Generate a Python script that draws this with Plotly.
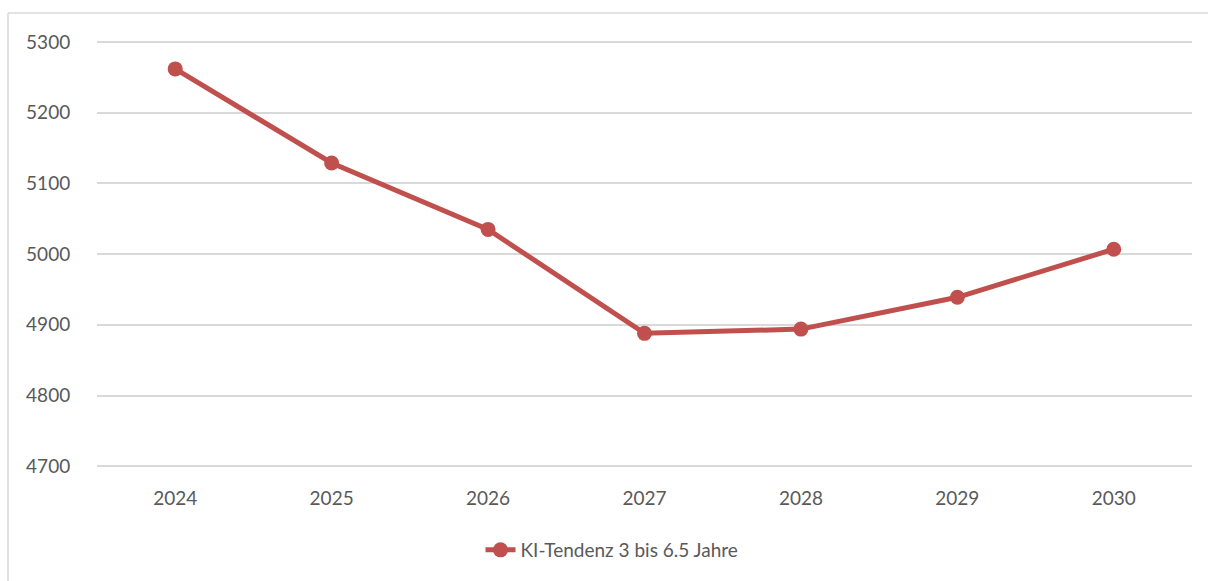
import plotly.graph_objects as go

years = ["2024", "2025", "2026", "2027", "2028", "2029", "2030"]
values = [5262, 5129, 5035, 4888, 4894, 4939, 5007]
series_name = "KI-Tendenz 3 bis 6.5 Jahre"
y_ticks = [4700, 4800, 4900, 5000, 5100, 5200, 5300]

W, H = 1208, 581
ml, mr, mt, mb = 97, 16, 41, 113
pw, ph = W - ml - mr, H - mt - mb

def px_x(x):
    return (x - ml) / pw

def px_y(y):
    return 1 + (mt - y) / ph

fig = go.Figure()
fig.add_trace(go.Scatter(
    x=years, y=values, name=series_name, mode="lines+markers",
    line=dict(color="#C0504D", width=5),
    marker=dict(color="#C0504D", size=15),
))

fig.update_layout(
    width=W, height=H,
    margin=dict(l=ml, r=mr, t=mt, b=mb),
    paper_bgcolor="white", plot_bgcolor="white",
    font=dict(family="Lato, Open Sans, sans-serif", size=19, color="#595959"),
    showlegend=True,
    legend=dict(orientation="h", x=px_x(612), xanchor="center", y=px_y(550), yanchor="middle",
                font=dict(size=19, color="#595959")),
    xaxis=dict(type="category", range=[-0.5, 6.5], showgrid=False, zeroline=False,
               showline=False, ticks="outside", ticklen=13, tickcolor="rgba(0,0,0,0)"),
    yaxis=dict(range=[4697.5, 5301.5], tickvals=y_ticks, showgrid=True, gridcolor="#D9D9D9",
               gridwidth=1.5, zeroline=False, showline=False,
               ticks="outside", ticklen=22, tickcolor="rgba(0,0,0,0)"),
    shapes=[
        dict(type="line", xref="paper", yref="paper", x0=px_x(8), x1=px_x(1215),
             y0=px_y(13), y1=px_y(13), line=dict(color="#D9D9D9", width=1.5)),
        dict(type="line", xref="paper", yref="paper", x0=px_x(8), x1=px_x(8),
             y0=px_y(13), y1=px_y(590), line=dict(color="#D9D9D9", width=1.5)),
    ],
)

fig.write_html("out.html", config={"displayModeBar": False},
               post_script="document.body.style.margin='0';document.body.style.overflow='hidden';")
